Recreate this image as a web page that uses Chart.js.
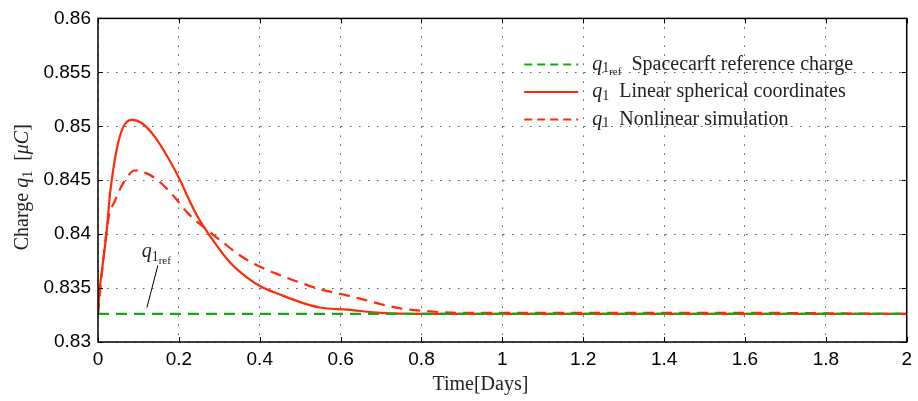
<!DOCTYPE html>
<html>
<head>
<meta charset="utf-8">
<script src="https://cdn.jsdelivr.net/npm/chart.js@4/dist/chart.umd.min.js"></script>
<style>
  html, body { margin: 0; padding: 0; background: #fff; }
  #wrap { width: 918px; height: 401px; }
</style>
</head>
<body>
<div id="wrap"><canvas id="chargeChart" width="918" height="401"></canvas></div>
<script>
// time in days, charge in microcoulomb
const linTime = [0, 0.003, 0.009, 0.021, 0.03, 0.046, 0.062, 0.083, 0.108, 0.141, 0.173, 0.207, 0.22, 0.245, 0.272, 0.326, 0.368, 0.405, 0.45, 0.5, 0.549, 0.616, 0.7, 0.8, 1.2, 1.6, 2.0];
const linCharge = [0.8326, 0.8345, 0.8364, 0.8401, 0.8438, 0.8478, 0.8499, 0.8506, 0.8503, 0.849, 0.8471, 0.8447, 0.8436, 0.8417, 0.8401, 0.8374, 0.836, 0.8351, 0.8344, 0.8337, 0.8332, 0.833, 0.8327, 0.8326, 0.8326, 0.8326, 0.8326];

const nonTime = [0, 0.01, 0.025, 0.042, 0.062, 0.091, 0.116, 0.148, 0.19, 0.223, 0.27, 0.31, 0.356, 0.405, 0.45, 0.5, 0.549, 0.606, 0.65, 0.7, 0.75, 0.8, 0.9, 1.2, 1.6, 2.0];
const nonCharge = [0.8326, 0.8365, 0.8413, 0.8431, 0.8447, 0.8459, 0.8457, 0.845, 0.8434, 0.8419, 0.8404, 0.8392, 0.8379, 0.8369, 0.8362, 0.8355, 0.8349, 0.8344, 0.834, 0.8335, 0.8331, 0.8329, 0.8327, 0.8327, 0.8327, 0.8326];

const refTime = [0, 2];
const refCharge = [0.8326, 0.8326];

const legendLabels = ['Spacecarft reference charge', 'Linear spherical coordinates', 'Nonlinear simulation'];
const xTitle = 'Time[Days]';

const green = '#14a814';
const red = '#ff2a0a';
const serif = '"Liberation Serif", "DejaVu Serif", serif';

function pts(xs, ys) {
    return xs.map(function(x, i) { return { x: x, y: ys[i] }; });
}

// draws a run of text pieces with their own fonts / offsets
function drawRich(ctx, parts, x, y, align) {
    let total = 0;
    parts.forEach(function(p) { ctx.font = p.font; total += ctx.measureText(p.t).width; });
    if (align === 'center') x -= total / 2;
    parts.forEach(function(p) {
        ctx.font = p.font;
        ctx.fillText(p.t, x, y + (p.dy || 0));
        x += ctx.measureText(p.t).width;
    });
}

function qParts(size, withRef) {
    let parts = [
        { t: 'q', font: 'italic ' + size + 'px ' + serif },
        { t: '1', font: Math.round(size * 0.72) + 'px ' + serif, dy: size * 0.2 }
    ];
    if (withRef) parts.push({ t: 'ref', font: Math.round(size * 0.55) + 'px ' + serif, dy: size * 0.38 });
    return parts;
}

const decor = {
    id: 'decor',
    afterDraw: function(chart) {
        const ctx = chart.ctx;
        const a = chart.chartArea;
        const xs = chart.scales.x, ys = chart.scales.y;
        ctx.save();

        // inside tick marks (matlab style)
        ctx.strokeStyle = '#000';
        ctx.lineWidth = 1;
        ctx.beginPath();
        xs.ticks.forEach(function(t) {
            const px = Math.round(xs.getPixelForValue(t.value)) + 0.5;
            ctx.moveTo(px, a.bottom); ctx.lineTo(px, a.bottom - 5);
            ctx.moveTo(px, a.top); ctx.lineTo(px, a.top + 5);
        });
        ys.ticks.forEach(function(t) {
            const py = Math.round(ys.getPixelForValue(t.value)) + 0.5;
            ctx.moveTo(a.left, py); ctx.lineTo(a.left + 5, py);
            ctx.moveTo(a.right, py); ctx.lineTo(a.right - 5, py);
        });
        ctx.stroke();

        // axes box
        ctx.lineWidth = 1.5;
        ctx.strokeRect(a.left, a.top, a.right - a.left, a.bottom - a.top);

        // legend
        ctx.fillStyle = '#222';
        ctx.textBaseline = 'middle';
        const styles = [
            { c: green, dash: [8, 5] },
            { c: red, dash: [] },
            { c: red, dash: [8, 5] }
        ];
        const lx = a.left + (a.right - a.left) * 0.527;
        const ly = a.top + 46;
        legendLabels.forEach(function(lbl, i) {
            const y = ly + i * 27.5;
            ctx.strokeStyle = styles[i].c;
            ctx.lineWidth = 2;
            ctx.setLineDash(styles[i].dash);
            ctx.beginPath();
            ctx.moveTo(lx, y); ctx.lineTo(lx + 54, y);
            ctx.stroke();
            ctx.setLineDash([]);
            const parts = qParts(20, i === 0);
            parts.push({ t: '  ' + lbl, font: '20px ' + serif });
            drawRich(ctx, parts, lx + 68, y, 'left');
        });

        // annotation for reference charge
        ctx.strokeStyle = '#000';
        ctx.lineWidth = 1;
        ctx.beginPath();
        ctx.moveTo(xs.getPixelForValue(0.148), ys.getPixelForValue(0.8371));
        ctx.lineTo(xs.getPixelForValue(0.121), ys.getPixelForValue(0.8332));
        ctx.stroke();
        ctx.textBaseline = 'alphabetic';
        drawRich(ctx, qParts(20, true), xs.getPixelForValue(0.108), ys.getPixelForValue(0.8379), 'left');

        // axis titles
        ctx.fillStyle = '#222';
        drawRich(ctx, [{ t: xTitle, font: '20px ' + serif }], (a.left + a.right) / 2 - 22, a.bottom + 48, 'center');
        ctx.translate(28, (a.top + a.bottom) / 2 + 7);
        ctx.rotate(-Math.PI / 2);
        drawRich(ctx, [
            { t: 'Charge ', font: '20px ' + serif },
            { t: 'q', font: 'italic 20px ' + serif },
            { t: '1', font: '14px ' + serif, dy: 4 },
            { t: '  [', font: '20px ' + serif },
            { t: 'μC', font: 'italic 20px ' + serif },
            { t: ']', font: '20px ' + serif }
        ], 0, 0, 'center');
        ctx.restore();
    }
};

const tickFont = { family: '"Liberation Sans", Arial, sans-serif', size: 19 };

new Chart(document.getElementById('chargeChart').getContext('2d'), {
    type: 'line',
    data: {
        datasets: [
            {
                label: 'q1ref Spacecarft reference charge',
                data: pts(refTime, refCharge),
                borderColor: green,
                borderWidth: 2.2,
                borderDash: [11, 7],
                pointRadius: 0
            },
            {
                label: 'q1 Linear spherical coordinates',
                data: pts(linTime, linCharge),
                borderColor: red,
                borderWidth: 2.2,
                cubicInterpolationMode: 'monotone',
                pointRadius: 0
            },
            {
                label: 'q1 Nonlinear simulation',
                data: pts(nonTime, nonCharge),
                borderColor: red,
                borderWidth: 2.2,
                borderDash: [11, 7],
                cubicInterpolationMode: 'monotone',
                pointRadius: 0
            }
        ]
    },
    options: {
        responsive: false,
        animation: false,
        devicePixelRatio: 1,
        layout: { padding: { top: 18, right: 11, left: 0, bottom: 0 } },
        plugins: {
            legend: { display: false },
            tooltip: { enabled: false }
        },
        scales: {
            x: {
                type: 'linear',
                min: 0,
                max: 2,
                ticks: {
                    stepSize: 0.2,
                    color: '#000',
                    font: tickFont,
                    padding: 6,
                    maxRotation: 0,
                    callback: function(v) { return String(Number(v.toFixed(1))); }
                },
                grid: { color: '#555', drawTicks: false, tickLength: 0 },
                border: { display: false, dash: [1.5, 7.5] },
                afterFit: function(s) { s.height = 59; }
            },
            y: {
                min: 0.83,
                max: 0.86,
                ticks: {
                    stepSize: 0.005,
                    color: '#000',
                    font: tickFont,
                    padding: 7,
                    callback: function(v) { return String(Number(v.toFixed(3))); }
                },
                grid: { color: '#555', drawTicks: false, tickLength: 0 },
                border: { display: false, dash: [1.5, 7.5] },
                afterFit: function(s) { s.width = 98; }
            }
        }
    },
    plugins: [decor]
});
</script>
</body>
</html>
